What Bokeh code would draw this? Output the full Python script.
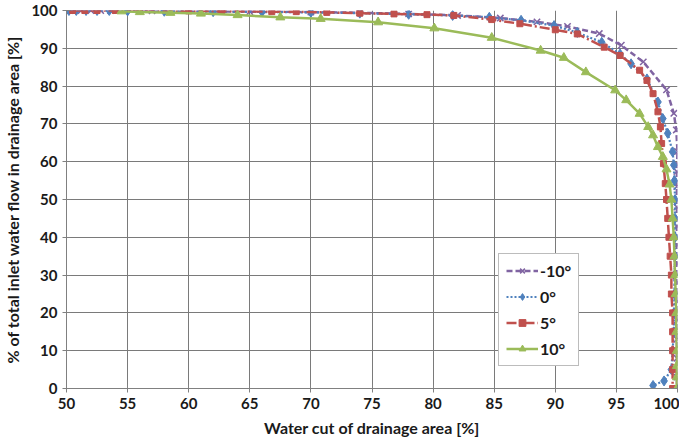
from bokeh.plotting import figure
from bokeh.models import Legend, LegendItem, FixedTicker
from bokeh.embed import file_html
from bokeh.resources import INLINE

# ---- data ----
x_ticks = [50, 55, 60, 65, 70, 75, 80, 85, 90, 95, 100]
y_ticks = [0, 10, 20, 30, 40, 50, 60, 70, 80, 90, 100]

x_m10 = [50.3, 51.2, 52.0, 52.8, 53.6, 57.0, 61.0, 65.0, 70.0, 74.0, 78.0, 82.0,
         85.5, 88.5, 91.0, 93.6, 95.4, 97.2, 99.1, 99.7, 99.9, 100.0, 99.95, 99.95,
         99.95, 99.95, 99.95, 99.95, 99.95, 99.95, 99.95, 99.95, 99.95, 99.95, 99.95]
y_m10 = [100, 100, 100, 100, 100, 99.9, 99.8, 99.7, 99.6, 99.4, 99.1, 98.7,
         98.0, 97.0, 95.8, 93.9, 90.8, 86.4, 79.0, 72.8, 68.4, 62.7, 57.4, 53.4,
         48, 43, 38, 33, 28, 23, 18, 13, 8, 3, 0]

x_0 = [50.2, 50.8, 51.6, 52.5, 53.5, 55.0, 58.0, 62.0, 66.0, 70.0, 74.0, 78.0, 81.6,
       84.6, 87.2, 89.9, 91.8, 93.8, 95.3, 96.2, 97.5, 98.4, 98.8, 99.2, 99.6, 99.7,
       99.75, 99.8, 99.8, 99.8, 99.8, 99.75, 99.75, 99.7, 99.7, 99.6, 99.5, 98.9, 98.0]
y_0 = [100, 100, 100, 100, 100, 99.9, 99.8, 99.7, 99.6, 99.5, 99.3, 99.0, 98.7,
       98.2, 97.4, 96.0, 94.2, 91.6, 88.5, 85.9, 81.9, 75.8, 71.4, 67.5, 62.6, 59.1,
       55, 50, 45, 40, 35, 30, 25, 20, 15, 10, 5, 2, 0.8]

x_5 = [50.5, 51.5, 52.5, 54.0, 56.0, 60.0, 62.7, 66.8, 68.8, 71.3, 74.0, 76.8, 79.5,
       81.7, 84.8, 87.1, 90.0, 91.8, 94.0, 95.3, 96.9, 97.5, 98.0, 98.4, 98.6, 98.7,
       98.85, 99.0, 99.1, 99.2, 99.3, 99.4, 99.5, 99.5, 99.6, 99.6, 99.6, 99.6, 99.6]
y_5 = [100, 100, 100, 100, 99.9, 99.9, 99.8, 99.7, 99.7, 99.5, 99.3, 99.1, 98.9,
       98.7, 97.6, 96.5, 94.9, 93.8, 90.3, 88.1, 84.2, 81.5, 78.0, 73.2, 69.2, 64.8,
       59.5, 54.2, 50, 45, 40, 35, 30, 25, 20, 15, 10, 5, 0]

x_10 = [54.5, 56.0, 58.5, 61.0, 64.0, 67.5, 70.8, 75.5, 80.1, 84.8, 88.8, 90.7, 92.5,
        94.9, 95.8, 96.9, 97.6, 98.0, 98.4, 98.8, 99.1, 99.35, 99.5, 99.6, 99.7, 99.75,
        99.8, 99.85, 99.9, 99.9, 99.95, 99.95, 99.95, 99.95]
y_10 = [99.8, 99.6, 99.4, 99.2, 98.8, 98.2, 97.8, 96.9, 95.3, 92.8, 89.4, 87.5, 83.7,
        78.9, 76.3, 72.7, 69.2, 67.0, 63.9, 61.3, 58, 54, 50, 45, 40, 35,
        30, 25, 20, 15, 10, 6, 3, 0]

labels = ["-10°", "0°", "5°", "10°"]

FONT = "Lato"

p = figure(width=679, height=440, x_range=(50, 100), y_range=(0, 100),
           output_backend="svg", toolbar_location=None,
           min_border_left=66, min_border_right=2, min_border_top=10, min_border_bottom=52)
p.outline_line_color = None

for ax in (p.xaxis[0], p.yaxis[0]):
    ax.axis_line_color = "#808080"
    ax.major_tick_line_color = "#808080"
    ax.major_tick_in = 4
    ax.major_tick_out = 4
    ax.minor_tick_line_color = None
    ax.major_label_text_font = FONT
    ax.major_label_text_font_style = "bold"
    ax.major_label_text_font_size = "15px"
    ax.major_label_text_color = "#1a1a1a"
    ax.axis_label_text_font = FONT
    ax.axis_label_text_font_style = "bold"
    ax.axis_label_text_font_size = "16px"
    ax.axis_label_text_color = "#1a1a1a"

p.xaxis.ticker = FixedTicker(ticks=x_ticks)
p.yaxis.ticker = FixedTicker(ticks=y_ticks)
p.xaxis.axis_label = "Water cut of drainage area [%]"
p.yaxis.axis_label = "% of total inlet water flow in drainage area [%]"
p.xaxis.axis_label_standoff = 6
p.yaxis.axis_label_standoff = 6

p.xgrid.grid_line_color = "#7a7a7a"
p.ygrid.grid_line_color = "#7a7a7a"
p.xgrid.grid_line_width = 1
p.ygrid.grid_line_width = 1

purple, blue, red, green = "#8064A2", "#4F81BD", "#C0504D", "#9BBB59"

l1 = p.line(x_m10, y_m10, line_color=purple, line_width=2.5, line_dash="6 3")
m1 = p.scatter(x_m10, y_m10, marker="x", size=9, line_color=purple, line_width=1.5)
l2 = p.line(x_0, y_0, line_color=blue, line_width=2.2, line_dash="2 2")
m2 = p.scatter(x_0, y_0, marker="diamond", size=10, fill_color=blue, line_color=blue)
l3 = p.line(x_5, y_5, line_color=red, line_width=2.5, line_dash="10 3 2 3")
m3 = p.scatter(x_5, y_5, marker="square", size=6, fill_color=red, line_color=red)
l4 = p.line(x_10, y_10, line_color=green, line_width=2.5)
m4 = p.scatter(x_10, y_10, marker="triangle", size=9, fill_color=green, line_color=green)

legend = Legend(items=[
    LegendItem(label=labels[0], renderers=[l1, m1]),
    LegendItem(label=labels[1], renderers=[l2, m2]),
    LegendItem(label=labels[2], renderers=[l3, m3]),
    LegendItem(label=labels[3], renderers=[l4, m4]),
], location=(432, 22))
legend.label_text_font = FONT
legend.label_text_font_style = "bold"
legend.label_text_font_size = "16px"
legend.label_text_color = "#1a1a1a"
legend.border_line_color = "#7a7a7a"
legend.border_line_width = 1
legend.background_fill_color = "white"
legend.background_fill_alpha = 1
legend.glyph_width = 32
legend.glyph_height = 17
legend.label_height = 17
legend.label_standoff = 2
legend.spacing = 7
legend.padding = 7
legend.margin = 0
p.add_layout(legend, "center")

open("out.html", "w").write(file_html(p, INLINE))
